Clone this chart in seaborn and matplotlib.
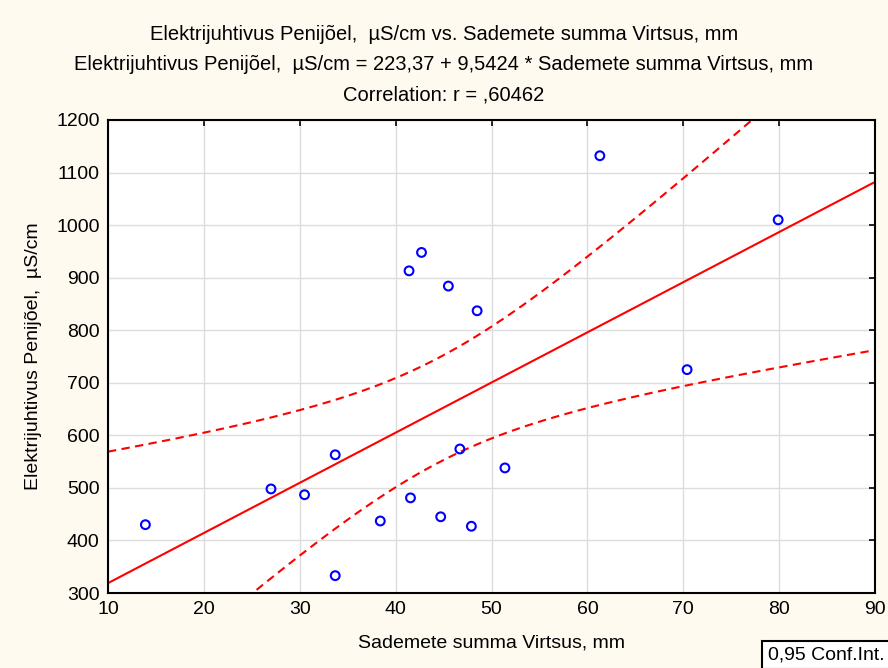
import numpy as np
import pandas as pd
import seaborn as sns
import matplotlib.pyplot as plt

# ---- data ----
x_vals = [13.9, 27.0, 30.5, 33.7, 33.7, 38.4, 41.55, 44.7, 46.7, 47.9, 51.4,
          41.4, 42.7, 45.5, 48.5, 61.3, 79.9, 70.4]
y_vals = [430, 498, 487, 563, 333, 437, 481, 445, 574, 427, 538,
          913, 948, 884, 837, 1132, 1010, 725]
intercept = 223.37
slope = 9.5424
r_label = ",60462"
conf_level = 0.95
t_crit = 2.1199  # t(0.975, df=16)
x_ticks = [10, 20, 30, 40, 50, 60, 70, 80, 90]
y_ticks = [300, 400, 500, 600, 700, 800, 900, 1000, 1100, 1200]

df = pd.DataFrame({"x": x_vals, "y": y_vals})

sns.set_style("white")
plt.rcParams['font.family'] = ['Liberation Sans', 'DejaVu Sans']
plt.rcParams['text.color'] = 'black'
plt.rcParams['axes.labelcolor'] = 'black'

fig = plt.figure(figsize=(8.88, 6.68), dpi=100, facecolor='#fffaf0')
ax = fig.add_axes([108/888, 1-593/668, 767/888, 473/668])
ax.set_facecolor('white')

# regression and confidence band
n = len(x_vals)
xa = np.array(x_vals, float)
ya = np.array(y_vals, float)
resid = ya - (intercept + slope * xa)
s = np.sqrt(np.sum(resid**2) / (n - 2))
xm = xa.mean()
sxx = np.sum((xa - xm)**2)
grid = np.linspace(x_ticks[0], x_ticks[-1], 200)
fit = intercept + slope * grid
hw = t_crit * s * np.sqrt(1/n + (grid - xm)**2 / sxx)
band = pd.DataFrame({"x": grid, "fit": fit, "lo": fit - hw, "hi": fit + hw})

sns.lineplot(data=band, x="x", y="fit", ax=ax, color='#ff0000', lw=1.5)
for col in ["lo", "hi"]:
    sns.lineplot(data=band, x="x", y=col, ax=ax, color='#ff0000', lw=1.5,
                 dashes=False).lines[-1].set_dashes((4, 2.6))

sns.scatterplot(data=df, x="x", y="y", ax=ax, marker='o', s=40,
                facecolor='none', edgecolor='#0000ff', linewidth=1.5, zorder=5)

ax.set_xlim(x_ticks[0], x_ticks[-1])
ax.set_ylim(y_ticks[0], y_ticks[-1])
ax.set_xticks(x_ticks)
ax.set_yticks(y_ticks)
ax.tick_params(direction='in', length=4, width=1.2, top=True, right=True,
               labelsize=14, colors='black', labelcolor='black', pad=6)
ax.grid(True, color='#dcdcdc', lw=1)
for sp in ax.spines.values():
    sp.set_color('black')
    sp.set_linewidth(1.5)

ax.set_xlabel("Sademete summa Virtsus, mm", fontsize=14, labelpad=12, color='black')
ax.set_ylabel("Elektrijuhtivus Penijõel,  µS/cm", fontsize=14, labelpad=10, color='black')

slope_s = f"{slope:.4f}".replace('.', ',')
int_s = f"{intercept:.2f}".replace('.', ',')
fig.text(0.5, 1-34/668, "Elektrijuhtivus Penijõel,  µS/cm vs. Sademete summa Virtsus, mm",
         ha='center', va='center', fontsize=14.5, color='black')
fig.text(0.5, 1-64/668, f"Elektrijuhtivus Penijõel,  µS/cm = {int_s} + {slope_s} * Sademete summa Virtsus, mm",
         ha='center', va='center', fontsize=14.5, color='black')
fig.text(0.5, 1-95/668, f"Correlation: r = {r_label}", ha='center', va='center',
         fontsize=14.5, color='black')

fig.text(768/888, 1-655/668, f"{conf_level:.2f}".replace('.', ',') + " Conf.Int.",
         ha='left', va='center', fontsize=14, color='black',
         bbox=dict(boxstyle='square,pad=0.3', fc='white', ec='black', lw=1.5))

fig.savefig("out.png", dpi=100, facecolor=fig.get_facecolor())
